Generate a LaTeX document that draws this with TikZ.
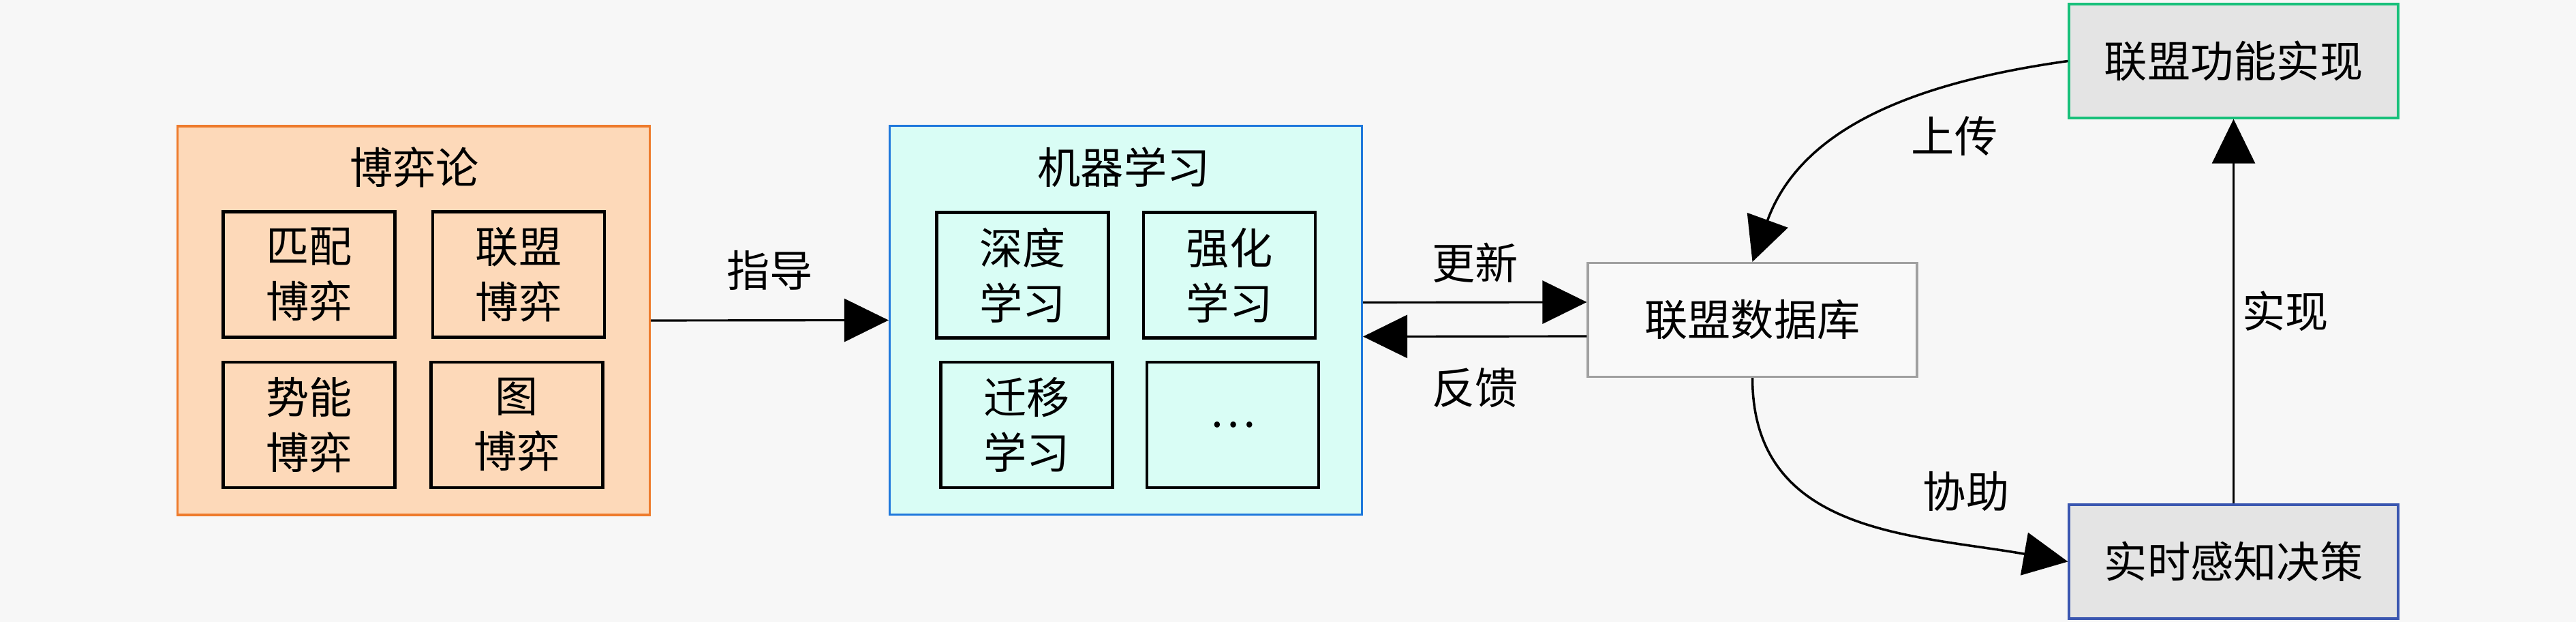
\documentclass[tikz,border=0pt]{standalone}
\usepackage{fontspec}
\setmainfont{Noto Sans CJK SC}
\usetikzlibrary{arrows.meta}

\definecolor{bgc}{HTML}{F7F7F7}
\definecolor{gtfill}{HTML}{FDD9B9}
\definecolor{gtline}{HTML}{EE7B2C}
\definecolor{mlfill}{HTML}{D9FDF5}
\definecolor{mlline}{HTML}{1E78DC}
\definecolor{dbline}{HTML}{A0A0A0}
\definecolor{dbfill}{HTML}{F9F9F9}
\definecolor{boxgray}{HTML}{E4E4E4}
\definecolor{funcline}{HTML}{18C07A}
\definecolor{rtline}{HTML}{3A56B0}

\tikzset{
    outer/.style={draw, line width=0.9pt, minimum width=6.93cm, minimum height=5.7cm},
    inner/.style={draw=black, line width=1.4pt, minimum width=2.52cm, minimum height=1.84cm, align=center},
    flowbox/.style={draw, line width=0.9pt, minimum width=4.83cm, minimum height=1.67cm},
    bigarrow/.style={-{Triangle[length=0.65cm,width=0.63cm]}, line width=0.9pt},
}

\begin{document}
\begin{tikzpicture}[font=\fontsize{18}{23}\selectfont]
    \useasboundingbox[fill=bgc] (0,0) rectangle (37.8,9.12);

    % game theory
    \node[outer, draw=gtline, fill=gtfill] (gt) at (6.07,4.42) {};
    \node (gttitle) at (6.08,6.67) {博弈论};
    \node[inner] (gtA) at (4.535,5.095) {匹配\\博弈};
    \node[inner] (gtB) at (7.61,5.095) {联盟\\博弈};
    \node[inner] (gtC) at (4.535,2.89) {势能\\博弈};
    \node[inner] (gtD) at (7.585,2.89) {图\\博弈};

    % machine learning
    \node[outer, draw=mlline, fill=mlfill] (ml) at (16.52,4.425) {};
    \node (mltitle) at (16.49,6.67) {机器学习};
    \node[inner] (mlA) at (15.005,5.085) {深度\\学习};
    \node[inner] (mlB) at (18.04,5.085) {强化\\学习};
    \node[inner] (mlC) at (15.065,2.89) {迁移\\学习};
    \node[inner] (mlD) at (18.09,2.89) {\dots};

    % right part
    \node[flowbox, draw=dbline, fill=dbfill] (db) at (25.715,4.43) {联盟数据库};
    \node[flowbox, draw=funcline, fill=boxgray] (func) at (32.775,8.225) {联盟功能实现};
    \node[flowbox, draw=rtline, fill=boxgray] (rt) at (32.775,0.885) {实时感知决策};

    \draw[bigarrow] (gt.east) -- (ml.west) node[midway, above=0.31cm] (guide) {指导};
    \draw[bigarrow] ([yshift=0.26cm]ml.east) -- ([yshift=0.26cm]db.west)
        node[midway, above=0.15cm] (update) {更新};
    \draw[bigarrow] ([yshift=-0.24cm]db.west) -- ([yshift=-0.24cm]ml.east)
        node[midway, below=0.33cm] (feedback) {反馈};

    \draw[bigarrow, line width=1pt] (func.west) to[out=188, in=70] (db.north);
    \node (upload) at (28.68,7.12) {上传};
    \draw[bigarrow, line width=1pt] (db.south) to[out=-90, in=170, looseness=1.1] (rt.west);
    \node (assist) at (28.85,1.91) {协助};
    \draw[bigarrow, line width=0.7pt] (rt.north) -- (func.south) node[midway, right=0pt] (realize) {实现};
\end{tikzpicture}
\end{document}
